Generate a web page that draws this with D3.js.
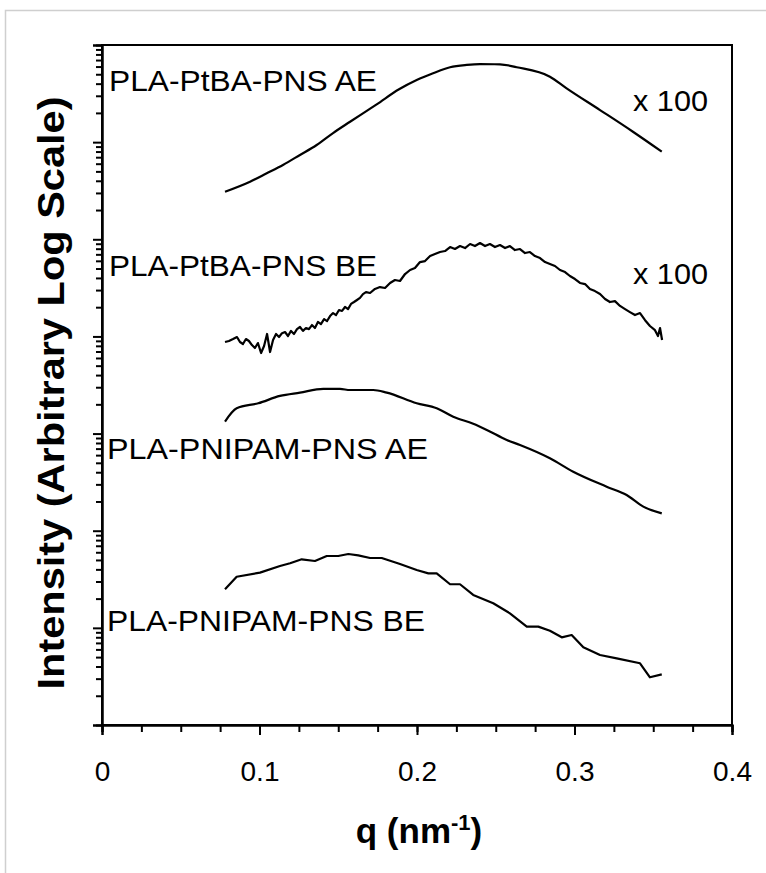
<!DOCTYPE html>
<html><head><meta charset="utf-8">
<script src="https://cdn.jsdelivr.net/npm/d3@7"></script>
<style>
body{margin:0;background:#fff}
svg{display:block}
text{font-family:Arial,"Liberation Sans",sans-serif;fill:#000}
</style>
</head><body>
<svg id="chart" width="766" height="873"></svg>
<script>
// ---------- data ----------
const xTickValues = [0, 0.1, 0.2, 0.3, 0.4];
const xTickLabels = ["0", "0.1", "0.2", "0.3", "0.4"];

// PLA-PtBA-PNS AE (x 100)
const qPtBA_AE = [0.0781,0.0940,0.1046,0.1149,0.1257,0.1363,0.1467,0.1575,0.1681,0.1744,0.1886,0.1998,0.2102,0.2210,0.2316,0.2400,0.2527,0.2633,0.2844,0.2950,0.3162,0.3371,0.3554];
const iPtBA_AE = [3.09e5,3.92e5,4.78e5,5.82e5,7.38e5,9.35e5,1.24e6,1.62e6,2.10e6,2.45e6,3.50e6,4.36e6,5.12e6,5.90e6,6.23e6,6.35e6,6.33e6,5.90e6,4.72e6,3.58e6,2.14e6,1.28e6,7.98e5];

// PLA-PtBA-PNS BE (x 100)
const qPtBA_BE = [0.0781,0.0806,0.0832,0.0857,0.0876,0.0895,0.0914,0.0933,0.0952,0.0971,0.0990,0.1010,0.1029,0.1048,0.1067,0.1086,0.1105,0.1124,0.1143,0.1162,0.1181,0.1200,0.1219,0.1238,0.1257,0.1276,0.1295,0.1314,0.1333,0.1352,0.1371,0.1390,0.1410,0.1429,0.1448,0.1467,0.1486,0.1505,0.1524,0.1543,0.1562,0.1581,0.1600,0.1619,0.1638,0.1657,0.1676,0.1702,0.1733,0.1765,0.1797,0.1829,0.1860,0.1892,0.1924,0.1956,0.1987,0.2019,0.2051,0.2083,0.2114,0.2146,0.2178,0.2210,0.2241,0.2273,0.2305,0.2337,0.2368,0.2400,0.2432,0.2463,0.2495,0.2527,0.2559,0.2590,0.2622,0.2654,0.2686,0.2717,0.2749,0.2781,0.2813,0.2844,0.2876,0.2908,0.2940,0.2971,0.3003,0.3035,0.3067,0.3098,0.3130,0.3162,0.3194,0.3225,0.3257,0.3289,0.3321,0.3352,0.3384,0.3416,0.3448,0.3479,0.3511,0.3530,0.3543,0.3556];
const iPtBA_BE = [8.76e3,8.97e3,9.40e3,9.86e3,8.76e3,8.35e3,9.40e3,8.97e3,8.15e3,7.60e3,8.55e3,6.75e3,7.96e3,1.06e4,6.91e3,9.18e3,1.06e4,9.86e3,1.08e4,1.11e4,1.01e4,1.14e4,1.06e4,1.19e4,1.25e4,1.14e4,1.22e4,1.19e4,1.31e4,1.22e4,1.41e4,1.34e4,1.51e4,1.44e4,1.62e4,1.74e4,1.66e4,1.87e4,1.83e4,2.01e4,1.91e4,2.16e4,2.26e4,2.37e4,2.49e4,2.73e4,2.86e4,2.80e4,3.08e4,3.22e4,3.15e4,3.55e4,3.81e4,3.72e4,4.39e4,4.83e4,5.06e4,5.83e4,5.97e4,6.72e4,7.05e4,7.39e4,7.57e4,8.32e4,7.94e4,8.52e4,8.13e4,8.94e4,8.52e4,9.15e4,8.52e4,8.94e4,8.32e4,8.73e4,8.13e4,8.52e4,7.75e4,7.94e4,7.22e4,7.39e4,6.72e4,6.41e4,5.83e4,5.56e4,5.31e4,4.83e4,4.60e4,4.19e4,3.90e4,3.55e4,3.46e4,3.08e4,2.93e4,2.73e4,2.43e4,2.26e4,2.31e4,2.06e4,1.91e4,1.78e4,1.66e4,1.74e4,1.47e4,1.28e4,1.16e4,1.01e4,1.22e4,9.18e3];

// PLA-PNIPAM-PNS AE
const qPNIPAM_AE = [0.0781,0.0855,0.0992,0.1130,0.1257,0.1405,0.1511,0.1575,0.1722,0.1808,0.1998,0.2125,0.2230,0.2357,0.2443,0.2570,0.2654,0.2844,0.2992,0.3204,0.3331,0.3437,0.3554];
const iPNIPAM_AE = [1.33e3,1.82e3,2.05e3,2.44e3,2.64e3,2.88e3,2.88e3,2.81e3,2.81e3,2.64e3,2.05e3,1.82e3,1.49e3,1.26e3,1.09e3,8.59e2,7.63e2,5.57e2,4.05e2,2.84e2,2.33e2,1.77e2,1.51e2];

// PLA-PNIPAM-PNS BE
const qPNIPAM_BE = [0.0781,0.0855,0.1003,0.1130,0.1194,0.1268,0.1352,0.1427,0.1500,0.1564,0.1627,0.1702,0.1776,0.1892,0.1998,0.2072,0.2125,0.2210,0.2273,0.2357,0.2484,0.2590,0.2697,0.2770,0.2844,0.2919,0.2982,0.3056,0.3162,0.3268,0.3416,0.3479,0.3554];
const iPNIPAM_BE = [24.9,33.6,37.0,43.3,46.2,50.8,48.8,54.9,54.9,57.6,55.8,52.4,52.4,45.4,39.4,36.4,36.4,28.1,28.1,21.8,17.9,14.1,10.3,10.3,9.35,7.99,8.44,6.30,5.25,4.86,4.32,3.10,3.32];

const seriesLabels = ["PLA-PtBA-PNS AE", "PLA-PtBA-PNS BE", "PLA-PNIPAM-PNS AE", "PLA-PNIPAM-PNS BE"];
const multiplierLabel = "x 100";
const yTitle = "Intensity (Arbitrary Log Scale)";

// ---------- drawing ----------
const svg = d3.select("#chart");
const x = d3.scaleLinear().domain([0, 0.4]).range([102, 732]);
const y = d3.scaleLog().domain([1, 1e7]).range([725, 45]);

// outer light frame
svg.append("rect").attr("x", 5.5).attr("y", 10.5).attr("width", 764).attr("height", 880)
  .attr("fill", "none").attr("stroke", "#cfcfcf").attr("stroke-width", 1.5);

// plot frame
svg.append("rect").attr("x", x(0)).attr("y", y(1e7)).attr("width", x(0.4) - x(0)).attr("height", y(1) - y(1e7))
  .attr("fill", "none").attr("stroke", "#000").attr("stroke-width", 2);

// y axis ticks
const majorY = d3.range(0, 8).map(k => Math.pow(10, k));
const minorY = [];
for (let k = 0; k < 7; k++) for (let m = 2; m <= 9; m++) minorY.push(m * Math.pow(10, k));

const yMinor = svg.append("g").attr("transform", `translate(${x(0)},0)`)
  .call(d3.axisLeft(y).tickValues(minorY).tickSize(6).tickFormat(""));
const yMajor = svg.append("g").attr("transform", `translate(${x(0)},0)`)
  .call(d3.axisLeft(y).tickValues(majorY).tickSize(9).tickFormat(""));
[yMinor, yMajor].forEach(g => {
  g.select(".domain").attr("stroke", "#000").attr("stroke-width", 2);
  g.selectAll(".tick line").attr("stroke", "#000").attr("stroke-width", 2);
});

// x axis
const minorX = d3.range(0, 17).map(k => k * 0.025);
const xMinor = svg.append("g").attr("transform", `translate(0,${y(1)})`)
  .call(d3.axisBottom(x).tickValues(minorX).tickSize(7).tickFormat(""));
const xMajor = svg.append("g").attr("transform", `translate(0,${y(1)})`)
  .call(d3.axisBottom(x).tickValues(xTickValues).tickSize(10).tickPadding(26)
    .tickFormat((d, i) => xTickLabels[i]));
[xMinor, xMajor].forEach(g => {
  g.select(".domain").attr("stroke", "#000").attr("stroke-width", 2);
  g.selectAll(".tick line").attr("stroke", "#000").attr("stroke-width", 2);
});
xMajor.selectAll(".tick text").attr("font-size", 28).attr("font-family", "Arial, 'Liberation Sans', sans-serif").attr("fill", "#000");

// curves
const lineSmooth = d3.line().x(d => x(d[0])).y(d => y(d[1])).curve(d3.curveMonotoneX);
const lineStraight = d3.line().x(d => x(d[0])).y(d => y(d[1]));
const series = [
  {q: qPtBA_AE, v: iPtBA_AE, gen: lineSmooth},
  {q: qPtBA_BE, v: iPtBA_BE, gen: lineStraight},
  {q: qPNIPAM_AE, v: iPNIPAM_AE, gen: lineSmooth},
  {q: qPNIPAM_BE, v: iPNIPAM_BE, gen: lineStraight}
];
series.forEach(s => {
  svg.append("path").datum(s.q.map((q, i) => [q, s.v[i]]))
    .attr("d", s.gen).attr("fill", "none").attr("stroke", "#000")
    .attr("stroke-width", 2.2).attr("stroke-linejoin", "round");
});

// series labels
const labelPos = [
  {x: 109, y: 91, w: 268},
  {x: 109, y: 276, w: 268},
  {x: 107, y: 459, w: 321},
  {x: 107, y: 631, w: 318}
];
seriesLabels.forEach((t, i) => {
  svg.append("text").attr("x", labelPos[i].x).attr("y", labelPos[i].y)
    .attr("font-size", 30).attr("textLength", labelPos[i].w).attr("lengthAdjust", "spacingAndGlyphs").text(t);
});
[111, 284].forEach(by => {
  svg.append("text").attr("x", 633).attr("y", by).attr("font-size", 30)
    .attr("textLength", 75).attr("lengthAdjust", "spacingAndGlyphs").text(multiplierLabel);
});

// axis titles
svg.append("text").attr("transform", "translate(64,393) rotate(-90)")
  .attr("text-anchor", "middle").attr("font-size", 36).attr("font-weight", "bold")
  .attr("textLength", 593).attr("lengthAdjust", "spacingAndGlyphs").text(yTitle);

const xt = svg.append("text").attr("x", 419).attr("y", 843).attr("text-anchor", "middle")
  .attr("font-size", 35).attr("font-weight", "bold");
xt.append("tspan").text("q (nm");
xt.append("tspan").attr("font-size", 22).attr("dy", -13).text("-1");
xt.append("tspan").attr("dy", 13).text(")");
</script>
</body></html>
